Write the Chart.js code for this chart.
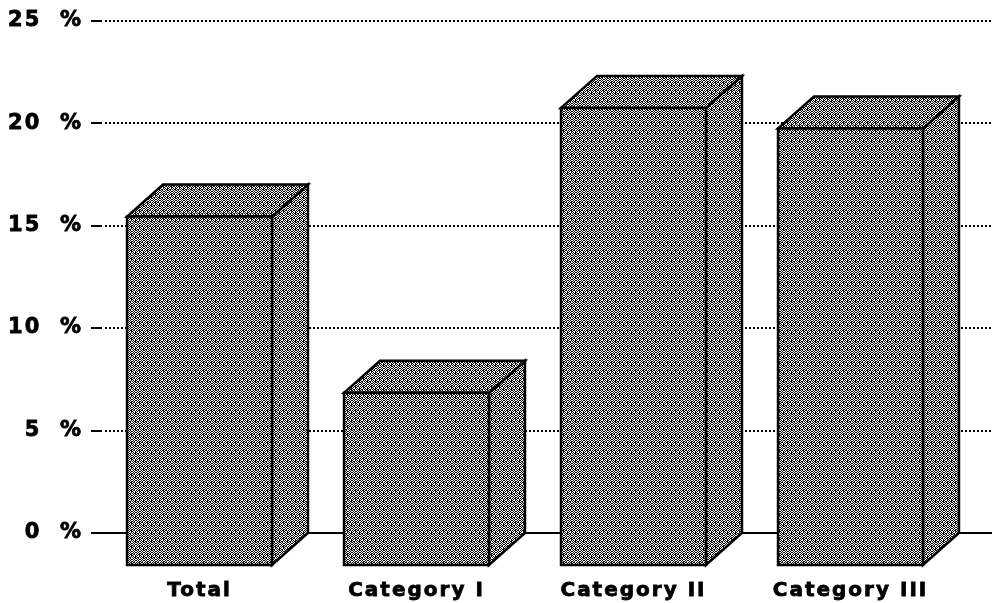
<!DOCTYPE html>
<html>
<head>
<meta charset="utf-8">
<script src="https://cdn.jsdelivr.net/npm/chart.js@4/dist/chart.umd.min.js"></script>
<style>
  html, body { margin: 0; padding: 0; background: #fff; }
  #chart { display: block; }
</style>
</head>
<body>
<canvas id="chart" width="992" height="603"></canvas>
<script>

// Data (values read at the back plane of the boxes)
var categories = ['Total', 'Category I', 'Category II', 'Category III'];
var shares     = [17.0, 8.4, 22.3, 21.3];
var yTicks     = [0, 5, 10, 15, 20, 25];

// Box depth in pixels (front face shifted left/down)
var DX = 36, DY = 32;

// Halftone fill, rough copy of the printed dot screen
function makePattern(ctx){
    var rows = [
        '10100101',
        '01011010',
        '10110110',
        '01011001',
        '10010101',
        '01101011',
        '10100101',
        '01011010'
    ];
    var c = document.createElement('canvas');
    c.width = 8; c.height = 8;
    var t = c.getContext('2d');
    t.fillStyle = '#fff';
    t.fillRect(0, 0, 8, 8);
    t.fillStyle = '#000';
    rows.forEach(function(r, y){
        for (var x = 0; x < 8; x++) if (r[x] === '1') t.fillRect(x, y, 1, 1);
    });
    return ctx.createPattern(c, 'repeat');
}

var boxPlugin = {
    id: 'box3d',
    beforeDraw: function(chart){
        // canvas resize wipes ctx state, so set spacing right before drawing
        chart.ctx.letterSpacing = '2px';
    },
    beforeDatasetsDraw: function(chart){
        var ctx = chart.ctx, y = chart.scales.y, area = chart.chartArea;
        var right = chart.width;
        ctx.save();
        ctx.strokeStyle = '#000';
        yTicks.forEach(function(v){
            var py = Math.round(y.getPixelForValue(v));
            if (v === 0) {
                ctx.lineWidth = 2;
                ctx.setLineDash([]);
                ctx.beginPath();
                ctx.moveTo(area.left, py);
                ctx.lineTo(right, py);
                ctx.stroke();
                return;
            }
            // short solid tick then dotted grid
            ctx.lineWidth = 2;
            ctx.setLineDash([]);
            ctx.beginPath();
            ctx.moveTo(area.left, py);
            ctx.lineTo(area.left + 11, py);
            ctx.stroke();
            ctx.setLineDash([2, 2]);
            ctx.beginPath();
            ctx.moveTo(area.left + 14, py);
            ctx.lineTo(right, py);
            ctx.stroke();
        });
        ctx.restore();
    },
    afterDatasetsDraw: function(chart){
        var ctx = chart.ctx;
        var fill = makePattern(ctx);
        var meta = chart.getDatasetMeta(0);
        ctx.save();
        ctx.setLineDash([]);
        ctx.lineWidth = 2.5;
        ctx.lineJoin = 'miter';
        ctx.strokeStyle = '#000';
        ctx.fillStyle = fill;
        meta.data.forEach(function(bar){
            var x0 = bar.x - bar.width / 2, x1 = bar.x + bar.width / 2;
            var top = bar.y + DY, bot = bar.base + DY;

            // side
            ctx.beginPath();
            ctx.moveTo(x1, top);
            ctx.lineTo(x1 + DX, top - DY);
            ctx.lineTo(x1 + DX, bot - DY);
            ctx.lineTo(x1, bot);
            ctx.closePath();
            ctx.fill(); ctx.stroke();

            // top
            ctx.beginPath();
            ctx.moveTo(x0, top);
            ctx.lineTo(x0 + DX, top - DY);
            ctx.lineTo(x1 + DX, top - DY);
            ctx.lineTo(x1, top);
            ctx.closePath();
            ctx.fill(); ctx.stroke();

            // front
            ctx.beginPath();
            ctx.rect(x0, top, bar.width, bot - top);
            ctx.fill(); ctx.stroke();
        });
        ctx.restore();
    }
};

var ctx = document.getElementById('chart').getContext('2d');
var chart = new Chart(ctx, {
    type: 'bar',
    data: {
        labels: categories,
        datasets: [{
            data: shares,
            backgroundColor: 'rgba(0,0,0,0)',
            borderWidth: 0,
            categoryPercentage: 0.668,
            barPercentage: 1
        }]
    },
    options: {
        responsive: false,
        animation: false,
        events: [],
        layout: { padding: { top: -3, right: 33, bottom: 0, left: 0 } },
        plugins: {
            legend: { display: false },
            tooltip: { enabled: false },
            title: { display: false }
        },
        scales: {
            x: {
                grid: { display: false, drawTicks: false },
                border: { display: false },
                ticks: {
                    color: '#000',
                    padding: 46,
                    maxRotation: 0,
                    textStrokeColor: '#000',
                    textStrokeWidth: 0.8,
                    font: { family: 'DejaVu Sans', weight: 'bold', size: 20 }
                },
                afterFit: function(s){ s.height = 70; }
            },
            y: {
                min: 0,
                max: 25,
                grid: { display: false, drawTicks: false },
                border: { display: false },
                ticks: {
                    stepSize: 5,
                    color: '#000',
                    padding: 8,
                    textStrokeColor: '#000',
                    textStrokeWidth: 0.8,
                    font: { family: 'DejaVu Sans', weight: 'bold', size: 21 },
                    callback: function(v){ return v + '  %'; }
                },
                afterFit: function(s){ s.width = 91; }
            }
        }
    },
    plugins: [boxPlugin]
});
</script>
</body>
</html>
